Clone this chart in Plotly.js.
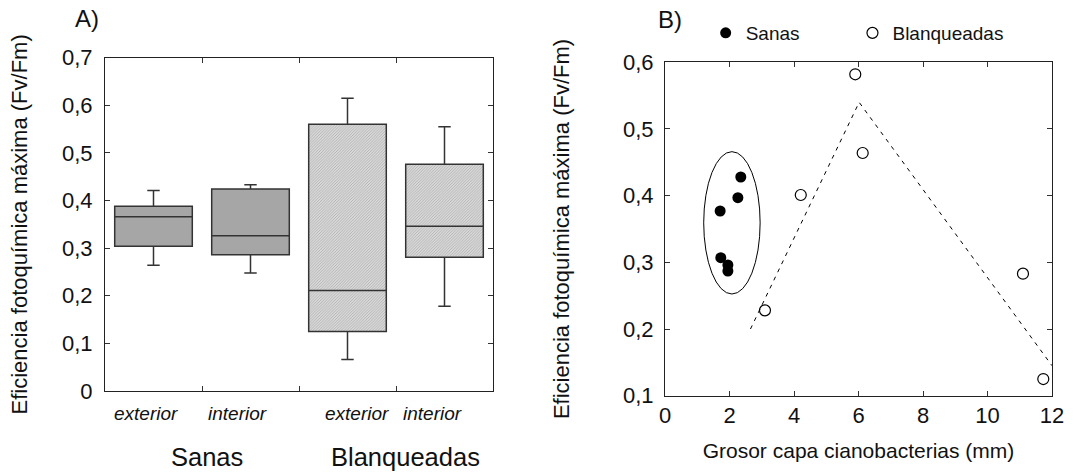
<!DOCTYPE html>
<html>
<head>
<meta charset="utf-8">
<script src="https://cdn.plot.ly/plotly-3.0.1.min.js"></script>
<style>html,body{margin:0;padding:0;background:#fff;}#chart{width:1089px;height:476px;}</style>
</head>
<body>
<div id="chart"></div>
<script>
// ---- Panel A data (box summaries) ----
var groups = ['Sanas', 'Blanqueadas'];
var positions = ['exterior', 'interior', 'exterior', 'interior'];
var sanasPos = [0.5, 1.5];
var sanasLow = [0.264, 0.248];
var sanasQ1 = [0.304, 0.286];
var sanasMed = [0.366, 0.326];
var sanasQ3 = [0.388, 0.424];
var sanasHigh = [0.421, 0.433];
var blanqPos = [2.5, 3.5];
var blanqLow = [0.066, 0.178];
var blanqQ1 = [0.125, 0.281];
var blanqMed = [0.211, 0.346];
var blanqQ3 = [0.560, 0.476];
var blanqHigh = [0.615, 0.555];

// ---- Panel B data ----
var sanasX = [1.71, 2.35, 2.26, 1.73, 1.95, 1.95];
var sanasY = [0.377, 0.428, 0.397, 0.307, 0.296, 0.287];
var blanqX = [5.90, 6.13, 4.21, 3.10, 11.10, 11.73];
var blanqY = [0.582, 0.464, 0.401, 0.228, 0.283, 0.125];
var fitX = [2.65, 6.02, 12.0];
var fitY = [0.200, 0.540, 0.145];

var FONT = 'Liberation Sans, Arial, sans-serif';
var INK = '#111';

var blanqIQR = blanqQ3.map(function(v, i){ return v - blanqQ1[i]; });

var traces = [
  {
    type: 'bar', x: blanqPos, y: blanqIQR, base: blanqQ1, width: 0.8,
    marker: {color: '#e2e2e2', line: {width: 0},
      pattern: {shape: '/', bgcolor: '#e9e9e9', fgcolor: '#b0b0b0', size: 2, solidity: 0.5}},
    xaxis: 'x', yaxis: 'y', showlegend: false, hoverinfo: 'skip'
  },
  {
    type: 'box', name: groups[0], x: sanasPos, q1: sanasQ1, median: sanasMed, q3: sanasQ3,
    lowerfence: sanasLow, upperfence: sanasHigh, width: 0.8, whiskerwidth: 0.16,
    fillcolor: '#a6a6a6', line: {color: '#333', width: 1.5}, boxpoints: false,
    xaxis: 'x', yaxis: 'y', showlegend: false
  },
  {
    type: 'box', name: groups[1], x: blanqPos, q1: blanqQ1, median: blanqMed, q3: blanqQ3,
    lowerfence: blanqLow, upperfence: blanqHigh, width: 0.8, whiskerwidth: 0.16,
    fillcolor: 'rgba(0,0,0,0)', line: {color: '#333', width: 1.5}, boxpoints: false,
    xaxis: 'x', yaxis: 'y', showlegend: false
  },
  {
    type: 'scatter', mode: 'lines', x: fitX, y: fitY, xaxis: 'x2', yaxis: 'y2',
    line: {color: '#000', width: 1, dash: '4px,5px'}, showlegend: false, hoverinfo: 'skip'
  },
  {
    type: 'scatter', mode: 'markers', name: groups[0], x: sanasX, y: sanasY,
    xaxis: 'x2', yaxis: 'y2', legend: 'legend',
    marker: {symbol: 'circle', size: 11, color: '#000'}
  },
  {
    type: 'scatter', mode: 'markers', name: groups[1], x: blanqX, y: blanqY,
    xaxis: 'x2', yaxis: 'y2', legend: 'legend2',
    marker: {symbol: 'circle-open', size: 11, color: '#000', line: {width: 1.2, color: '#000'}}
  }
];

var axCommon = {
  showline: true, linecolor: '#222', linewidth: 1, mirror: 'allticks',
  ticks: 'inside', ticklen: 5, tickcolor: '#333', tickwidth: 1,
  showgrid: false, zeroline: false, automargin: false,
  tickfont: {family: FONT, size: 22, color: INK}
};
function ax(extra){ var o = {}; for (var k in axCommon) o[k] = axCommon[k]; for (var k2 in extra) o[k2] = extra[k2]; return o; }

var catLabelX = [0.42, 1.37, 2.60, 3.38];
var annotations = [];
positions.forEach(function(p, i){
  annotations.push({text: p, x: catLabelX[i], xref: 'x', y: 0.132, yref: 'paper',
    showarrow: false, xanchor: 'center', yanchor: 'middle',
    font: {family: FONT, size: 19, color: INK, style: 'italic'}});
});
annotations.push({text: groups[0], x: 1.05, xref: 'x', y: 0.040, yref: 'paper', showarrow: false,
  xanchor: 'center', yanchor: 'middle', font: {family: FONT, size: 25.5, color: INK}});
annotations.push({text: groups[1], x: 3.10, xref: 'x', y: 0.040, yref: 'paper', showarrow: false,
  xanchor: 'center', yanchor: 'middle', font: {family: FONT, size: 25.5, color: INK}});
annotations.push({text: 'A)', x: 87/1089, xref: 'paper', y: 1 - 19/476, yref: 'paper', showarrow: false,
  xanchor: 'center', yanchor: 'middle', font: {family: FONT, size: 24, color: INK}});
annotations.push({text: 'B)', x: 670/1089, xref: 'paper', y: 1 - 20/476, yref: 'paper', showarrow: false,
  xanchor: 'center', yanchor: 'middle', font: {family: FONT, size: 24, color: INK}});

var legendCommon = function(xpos){
  return {orientation: 'h', x: xpos, xanchor: 'left', y: 1 - 33/476, yanchor: 'middle',
    font: {family: FONT, size: 19, color: INK}, bgcolor: 'rgba(0,0,0,0)', itemsizing: 'trace'};
};

var layout = {
  width: 1089, height: 476,
  margin: {l: 0, r: 0, t: 0, b: 0},
  paper_bgcolor: '#fff', plot_bgcolor: '#fff',
  separators: ', ',
  font: {family: FONT, color: INK},
  barmode: 'overlay',
  showlegend: true,
  legend: legendCommon(0.648),
  legend2: legendCommon(0.7828),
  xaxis: ax({domain: [105/1089, 493/1089], range: [0, 4], tickvals: [1, 2, 3],
    showticklabels: false, anchor: 'y'}),
  yaxis: ax({domain: [1 - 391/476, 1 - 57.7/476], range: [0, 0.7], dtick: 0.1, tick0: 0,
    anchor: 'x', ticklabelstandoff: 7,
    title: {text: 'Eficiencia fotoquímica máxima (Fv/Fm)', standoff: 28,
      font: {family: FONT, size: 22, color: INK}}}),
  xaxis2: ax({domain: [665/1089, 1052/1089], range: [0, 12], dtick: 2, tick0: 0,
    anchor: 'y2', ticklabelstandoff: 0,
    title: {text: 'Grosor capa cianobacterias (mm)', standoff: 16,
      font: {family: FONT, size: 21, color: INK}}}),
  yaxis2: ax({domain: [1 - 395.7/476, 1 - 62.3/476], range: [0.1, 0.6], dtick: 0.1, tick0: 0.1,
    anchor: 'x2', ticklabelstandoff: 6,
    title: {text: 'Eficiencia fotoquímica máxima (Fv/Fm)', standoff: 47,
      font: {family: FONT, size: 22, color: INK}}}),
  shapes: [{type: 'circle', xref: 'x2', yref: 'y2', x0: 1.2, x1: 2.95, y0: 0.2525, y1: 0.466,
    line: {color: '#000', width: 1}}],
  annotations: annotations
};

Plotly.newPlot('chart', traces, layout, {displayModeBar: false, staticPlot: true});
</script>
</body>
</html>
